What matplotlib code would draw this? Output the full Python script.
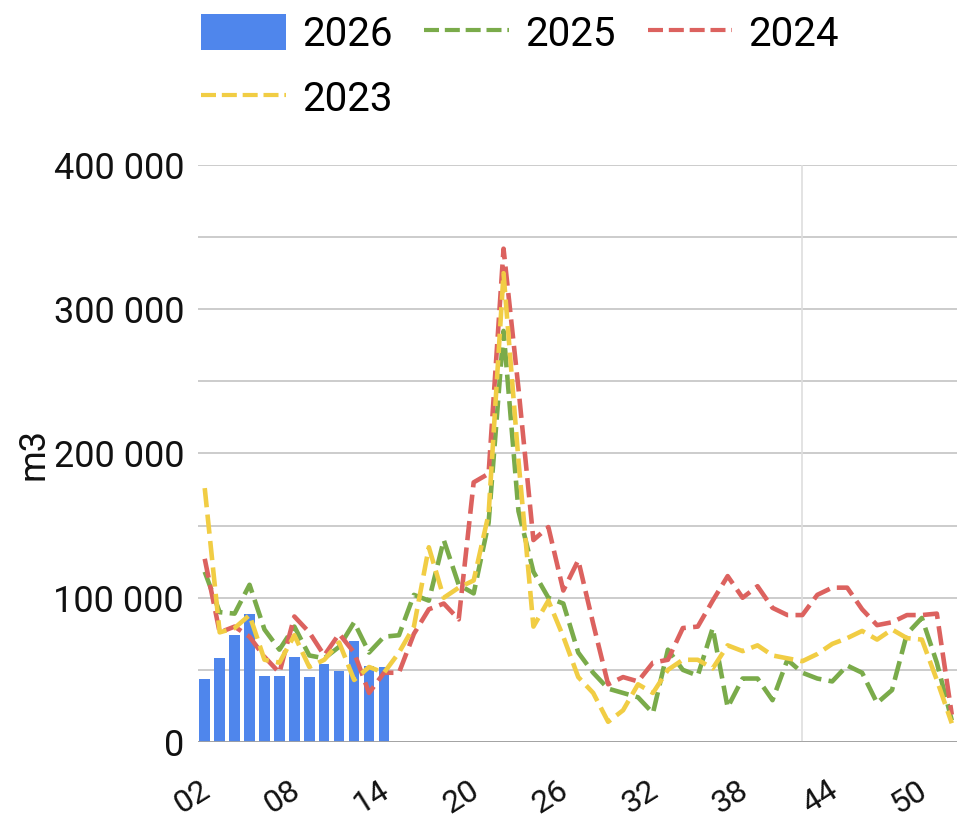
import matplotlib
matplotlib.use("Agg")
import matplotlib.pyplot as plt
import matplotlib.transforms as mtransforms
from matplotlib.lines import Line2D
from matplotlib.patches import Patch

plt.rcParams['font.family'] = ['Roboto', 'DejaVu Sans']

# weekly volumes (m3), weeks 01..51
weeks = list(range(1, 52))
week_labels = [f"{w:02d}" for w in weeks]

weeks_2026 = list(range(1, 14))
vol_2026 = [44000, 58000, 74000, 89000, 46000, 46000, 59000, 45000, 54000,
            49000, 70000, 53000, 52000]

vol_2025 = [118000, 90000, 89000, 109000, 78000, 64000, 80000, 60000, 58000, 66000,
            83000, 62000, 73000, 74000, 102000, 98000, 140000, 109000, 103000, 152000,
            285000, 160000, 118000, 100000, 96000, 62000, 48000, 37000, 34000, 31000,
            20000, 64000, 50000, 46000, 79000, 24000, 44000, 44000, 29000, 57000,
            48000, 44000, 42000, 53000, 48000, 27000, 36000, 75000, 86000, 55000,
            15000]

vol_2024 = [127000, 76000, 80000, 73000, 59000, 48000, 87000, 76000, 60000, 75000,
            62000, 34000, 48000, 48000, 75000, 92000, 96000, 85000, 180000, 186000,
            342000, 245000, 140000, 149000, 105000, 126000, 82000, 40000, 45000, 42000,
            55000, 57000, 79000, 80000, 98000, 115000, 100000, 108000, 93000, 88000,
            88000, 102000, 107000, 107000, 92000, 81000, 83000, 88000, 88000, 89000,
            19000]

vol_2023 = [176000, 76000, 79000, 88000, 57000, 55000, 74000, 52000, 57000, 69000,
            43000, 52000, 48000, 62000, 80000, 135000, 100000, 107000, 112000, 158000,
            325000, 195000, 80000, 98000, 73000, 45000, 34000, 14000, 22000, 40000,
            34000, 50000, 57000, 57000, 51000, 67000, 63000, 67000, 60000, 58000,
            56000, 61000, 68000, 72000, 77000, 71000, 78000, 72000, 71000, 43000,
            13000]

c_2026 = '#4f86ec'
c_2025 = '#7aab4a'
c_2024 = '#dc625f'
c_2023 = '#f1cd44'

fig = plt.figure(figsize=(9.57, 8.23), dpi=100)
ax = fig.add_axes([198/957, 81/823, 759/957, 577/823])

# grid
for v in range(0, 400001, 50000):
    ax.axhline(v, color='#c4c4c4', lw=1.2, zorder=0)
ax.axvline(41, color='#dedede', lw=1.2, zorder=0)

ax.bar(weeks_2026, vol_2026, width=0.7, color=c_2026, zorder=2)

dash = (4.2, 1.6)
lw = 3.3
ax.plot(weeks, vol_2025, color=c_2025, lw=lw, dashes=dash, zorder=3)
ax.plot(weeks, vol_2024, color=c_2024, lw=lw, dashes=dash, zorder=4)
ax.plot(weeks, vol_2023, color=c_2023, lw=lw, dashes=dash, zorder=5)

ax.axhline(0, color='#a0a0a0', lw=2, zorder=6)

ax.set_xlim(0.55, 51.35)
ax.set_ylim(0, 400000)

fs = 26
ax.set_yticks(range(0, 400001, 100000))
ax.set_yticklabels([f"{v:,}".replace(",", " ") for v in range(0, 400001, 100000)])
ax.set_xticks([])

# slanted week labels, placed by hand below the axis
trans = mtransforms.blended_transform_factory(ax.transData, ax.transAxes)
trans = mtransforms.offset_copy(trans, fig=fig, x=-20, y=-33, units='dots')
for w in weeks[1::6]:
    ax.text(w, 0, week_labels[w - 1], transform=trans, rotation=32,
            ha='right', va='top', rotation_mode='anchor', fontsize=23,
            color='#111111', clip_on=False)

ax.tick_params(axis='both', length=0, colors='#111111')
ax.tick_params(axis='y', pad=10, labelsize=fs)
for s in ax.spines.values():
    s.set_visible(False)

ax.set_ylabel('m3', fontsize=fs, color='#111111')
ax.yaxis.set_label_coords(-0.193, 0.5)

handles = [
    Patch(facecolor=c_2026, edgecolor='none', label='2026'),
    Line2D([], [], color=c_2023, lw=3, dashes=(3.6, 1.4), label='2023'),
    Line2D([], [], color=c_2025, lw=3, dashes=(3.6, 1.4), label='2025'),
    Line2D([], [], color=c_2024, lw=3, dashes=(3.6, 1.4), label='2024'),
]
fig.legend(handles=handles, loc='upper left', bbox_to_anchor=(201/957, 1 - 14/823),
           ncol=3, frameon=False, fontsize=29, handlelength=2.1, handleheight=1.0,
           handletextpad=0.4, columnspacing=0.8, labelspacing=0.62,
           borderpad=0, borderaxespad=0)

fig.savefig('out.png', dpi=100)
